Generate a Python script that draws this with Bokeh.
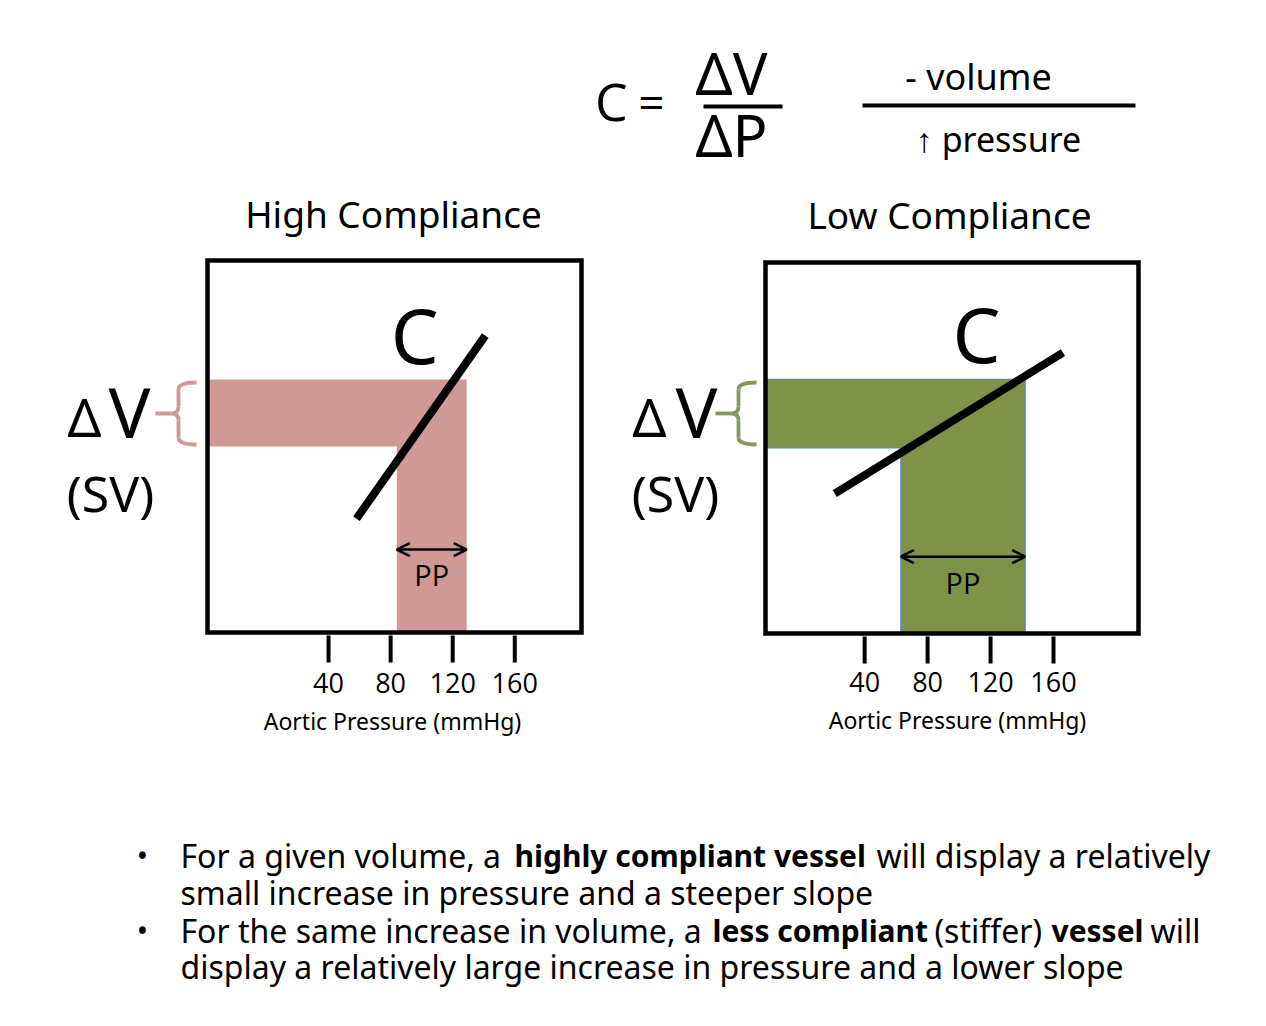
from bokeh.plotting import figure
from bokeh.models import Range1d, Arrow, OpenHead
from bokeh.core.properties import value
from bokeh.embed import file_html
from bokeh.resources import INLINE

# ---------------- data ----------------
TITLES = ["High Compliance", "Low Compliance"]
TICK_VALUES = [40, 80, 120, 160]
TICK_LABELS = ["40", "80", "120", "160"]
X_LABEL = "Aortic Pressure (mmHg)"
PRESSURE_LIMITS = [(-38, 203), (-23, 214)]      # box edges, mmHg
VOLUME_LIMITS = [(0, 100), (0, 100)]            # box edges, volume units
PP_RANGES = [(84, 129), (63, 142)]              # pulse pressure band (mmHg)
DV_RANGES = [(50, 68), (50, 68.5)]              # stroke volume band
CURVE_P = [[58, 141], [21, 166]]                # compliance line, pressure
CURVE_V = [[30.6, 79.8], [37.7, 75.7]]          # compliance line, volume
PP_ARROW_V = [22.3, 20.7]
PP_LABEL_V = [15.6, 13.7]
C_LABEL = [(95.5, 80.1), (111, 80.9)]
BAND_COLORS = ["#CF9996", "#7F9248"]
BAND_LINES = [None, "#5B86C5"]
BRACE_COLORS = ["#CF9996", "#85985A"]

FORMULA = {"lhs": "C", "eq": "=", "num": "\u0394V", "den": "\u0394P",
           "top": "- volume", "bottom": "\u2191 pressure"}

BULLET_LINES = [
    [("For a given volume, a", False), ("highly compliant vessel", True), ("will display a relatively", False)],
    [("small increase in pressure and a steeper slope", False)],
    [("For the same increase in volume, a", False), ("less compliant", True), ("(stiffer)", False),
     ("vessel", True), ("will", False)],
    [("display a relatively large increase in pressure and a lower slope", False)],
]

# ---------------- layout (pixels, page coordinates) ----------------
W, H = 1250, 1010
OX, OY = 0, 0
BOX_PX = [(207, 581, 260, 632), (765, 1138, 262, 633)]
SANS = value("Noto Sans")
CAL = value("Open Sans")

p = figure(width=W, height=H, x_range=Range1d(OX, OX + W), y_range=Range1d(OY + H, OY),
           output_backend="svg", toolbar_location=None, min_border=0,
           x_axis_type=None, y_axis_type=None)
p.grid.visible = False
p.outline_line_color = None
p.background_fill_color = "white"


def txt(x, y, s, size, font=SANS, align="center", bold=False, color="black", **kw):
    p.text(x=[x], y=[y], text=[s], text_font=font, text_font_size=f"{size}px",
           text_align=align, text_baseline="middle", text_color=color,
           text_font_style="bold" if bold else "normal", **kw)


def brace(x_tip, x_stem, x_end, y_top, y_bot, color, r=7):
    ym = (y_top + y_bot) / 2
    kw = dict(line_color=color, line_width=3.8)
    p.quadratic(x0=[x_end], y0=[y_top], x1=[x_stem], y1=[y_top + r], cx=[x_stem], cy=[y_top], **kw)
    p.segment(x0=[x_stem], y0=[y_top + r], x1=[x_stem], y1=[ym - r], **kw)
    p.quadratic(x0=[x_stem], y0=[ym - r], x1=[x_stem - r], y1=[ym], cx=[x_stem], cy=[ym], **kw)
    p.segment(x0=[x_stem - r], y0=[ym], x1=[x_tip], y1=[ym], **kw)
    p.quadratic(x0=[x_stem - r], y0=[ym], x1=[x_stem], y1=[ym + r], cx=[x_stem], cy=[ym], **kw)
    p.segment(x0=[x_stem], y0=[ym + r], x1=[x_stem], y1=[y_bot - r], **kw)
    p.quadratic(x0=[x_stem], y0=[y_bot - r], x1=[x_end], y1=[y_bot], cx=[x_stem], cy=[y_bot], **kw)


title_x = [393, 949]
title_y = [213, 214]
xlabel_x = [392, 957]
xlabel_y = [720, 719]
tick_label_y = [682, 681]
side_x = [(84, 129, 110), (649, 696, 675)]   # delta, V, (SV) x centres
brace_x = [(155, 178, 196), (715, 738, 756)]

for i, (l, r, t, b) in enumerate(BOX_PX):
    p_lo, p_hi = PRESSURE_LIMITS[i]
    v_lo, v_hi = VOLUME_LIMITS[i]
    kx = (r - l) / (p_hi - p_lo)
    ky = (b - t) / (v_hi - v_lo)
    xn, yn = f"px{i}", f"vy{i}"
    p.extra_x_ranges[xn] = Range1d(p_lo - (l - OX) / kx, p_hi + (OX + W - r) / kx)
    p.extra_y_ranges[yn] = Range1d(v_lo - (OY + H - b) / ky, v_hi + (t - OY) / ky)
    rn = dict(x_range_name=xn, y_range_name=yn)

    pp_lo, pp_hi = PP_RANGES[i]
    dv_lo, dv_hi = DV_RANGES[i]
    xs = [p_lo, pp_hi, pp_hi, pp_lo, pp_lo, p_lo]
    ys = [dv_hi, dv_hi, v_lo, v_lo, dv_lo, dv_lo]
    if BAND_LINES[i]:
        p.patch(xs, ys, fill_color=BAND_COLORS[i], line_color=BAND_LINES[i], line_width=1.2, **rn)
    else:
        p.patch(xs, ys, fill_color=BAND_COLORS[i], line_color=None, **rn)

    # compliance line
    p.line(CURVE_P[i], CURVE_V[i], line_width=8, line_color="black", line_cap="butt", **rn)

    # pulse pressure arrow
    head = dict(size=13, line_width=2.5, line_color="black")
    p.add_layout(Arrow(start=OpenHead(**head), end=OpenHead(**head),
                       x_start=pp_lo, x_end=pp_hi, y_start=PP_ARROW_V[i], y_end=PP_ARROW_V[i],
                       line_width=2.5, line_color="black", **rn))
    p.text(x=[(pp_lo + pp_hi) / 2], y=[PP_LABEL_V[i]], text=["PP"], text_font=CAL,
           text_font_size="29px", text_align="center", text_baseline="middle", **rn)

    # "C"
    p.text(x=[C_LABEL[i][0]], y=[C_LABEL[i][1]], text=["C"], text_font=SANS,
           text_font_size="76px", text_align="center", text_baseline="middle", **rn)

    # box
    p.quad(left=[p_lo], right=[p_hi], bottom=[v_lo], top=[v_hi], fill_color=None,
           line_color="black", line_width=4.5, line_join="miter", **rn)

    # ticks below the box
    p.segment(x0=TICK_VALUES, y0=[v_lo - 3 / ky] * 4, x1=TICK_VALUES, y1=[v_lo - 30 / ky] * 4,
              line_width=4, line_color="black", **rn)
    p.text(x=TICK_VALUES, y=[v_lo - (tick_label_y[i] - b) / ky] * 4, text=TICK_LABELS, text_font=CAL,
           text_font_size="27px", text_align="center", text_baseline="middle", **rn)

    txt(xlabel_x[i], xlabel_y[i], X_LABEL, 23)
    txt(title_x[i], title_y[i], TITLES[i], 37)

    dx, vx, sx = side_x[i]
    txt(dx, 416, "\u0394", 53)
    txt(vx, 410, "V", 70)
    txt(sx, 492, "(SV)", 50)
    bt, bs, be = brace_x[i]
    brace(bt, bs, be, 382, 444, BRACE_COLORS[i])

# formula
txt(611, 100, FORMULA["lhs"], 52, font=CAL)
txt(651, 100, FORMULA["eq"], 46, font=CAL)
txt(731, 72, FORMULA["num"], 58)
p.segment(x0=[703], y0=[106], x1=[782], y1=[106], line_width=4, line_color="black")
txt(731, 134, FORMULA["den"], 58)
txt(978, 76, FORMULA["top"], 36)
p.segment(x0=[862], y0=[105], x1=[1135], y1=[105], line_width=4, line_color="black")
txt(998, 138, FORMULA["bottom"], 34)

# bullets
seg_x = [[180, 514, 876], [180], [180, 712, 934, 1051, 1150], [180]]
line_y = [855, 892, 930, 966]
for li, line in enumerate(BULLET_LINES):
    for si, (s, bold) in enumerate(line):
        txt(seg_x[li][si], line_y[li], s, 30 if bold else 32, align="left", bold=bold)
for by in (line_y[0], line_y[2]):
    txt(142, by, "\u2022", 30)

open("out.html", "w").write(file_html(p, INLINE))
